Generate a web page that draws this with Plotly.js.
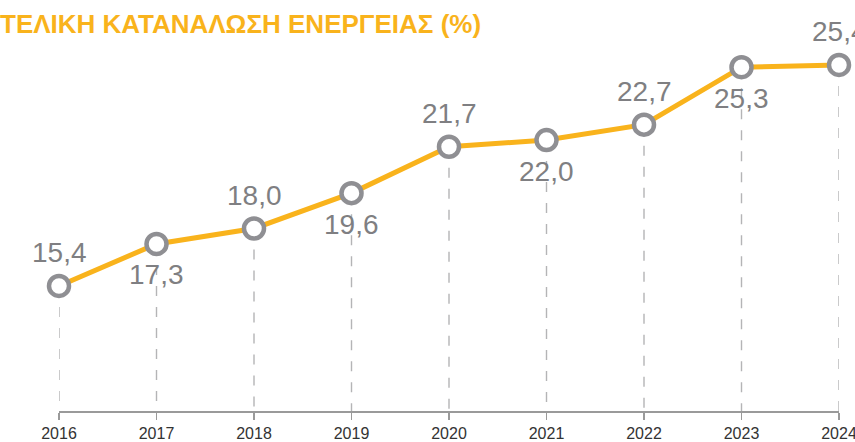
<!DOCTYPE html>
<html>
<head>
<meta charset="utf-8">
<script src="https://cdn.plot.ly/plotly-3.0.1.min.js"></script>
<style>html,body{margin:0;padding:0;background:#fff;}#chart{width:855px;height:442px;}</style>
</head>
<body>
<div id="chart"></div>
<script>
const years = [2016, 2017, 2018, 2019, 2020, 2021, 2022, 2023, 2024];
const values = [15.4, 17.3, 18.0, 19.6, 21.7, 22.0, 22.7, 25.3, 25.4];
const labelSide = ['above', 'below', 'above', 'below', 'above', 'below', 'above', 'below', 'above'];
const titleText = 'ΤΕΛΙΚΗ ΚΑΤΑΝΑΛΩΣΗ ΕΝΕΡΓΕΙΑΣ (%)';

const yMin = 9.74, yMax = 28.34;

const dropX = [], dropY = [];
years.forEach((yr, i) => { dropX.push(yr, yr, null); dropY.push(values[i], yMin, null); });

const traces = [
  {
    x: dropX, y: dropY, mode: 'lines', hoverinfo: 'skip', cliponaxis: false,
    line: {color: '#b4b4b6', width: 1.4, dash: '10px,11px'}
  },
  {
    x: years, y: values, mode: 'lines+markers', cliponaxis: false,
    line: {color: '#F9B31C', width: 5},
    marker: {size: 20, color: '#ffffff', line: {color: '#8f8f93', width: 4.5}}
  }
];

const annotations = years.map((yr, i) => ({
  x: yr, y: values[i], xref: 'x', yref: 'y', showarrow: false,
  text: values[i].toFixed(1).replace('.', ','),
  yshift: labelSide[i] === 'above' ? 33 : -31,
  yanchor: 'middle', xanchor: 'center',
  font: {family: 'Liberation Sans, Arial, sans-serif', size: 28, color: '#7f7f82'}
}));

const layout = {
  width: 855, height: 442,
  margin: {l: 59, r: 16, t: 0, b: 31},
  paper_bgcolor: '#ffffff', plot_bgcolor: '#ffffff',
  showlegend: false,
  title: {
    text: '<b>' + titleText + '</b>',
    x: 0, xref: 'container', xanchor: 'left',
    y: 1 - 24/442, yref: 'container', yanchor: 'middle',
    font: {family: 'Liberation Sans, Arial, sans-serif', size: 26, color: '#F9B31C'}
  },
  xaxis: {
    range: [2016, 2024], tickvals: years, ticktext: years.map(String),
    showgrid: false, zeroline: false,
    showline: true, linecolor: '#9a9a9a', linewidth: 1.5,
    ticks: 'outside', ticklen: 7, tickcolor: '#9a9a9a', tickwidth: 1.5,
    ticklabeloverflow: 'allow',
    tickfont: {family: 'Liberation Sans Narrow, Arial Narrow, sans-serif', size: 16, color: '#333333'},
    fixedrange: true
  },
  yaxis: {
    range: [yMin, yMax], visible: false, showgrid: false, zeroline: false, fixedrange: true
  },
  annotations: annotations
};

Plotly.newPlot('chart', traces, layout, {displayModeBar: false, staticPlot: true});
</script>
</body>
</html>
